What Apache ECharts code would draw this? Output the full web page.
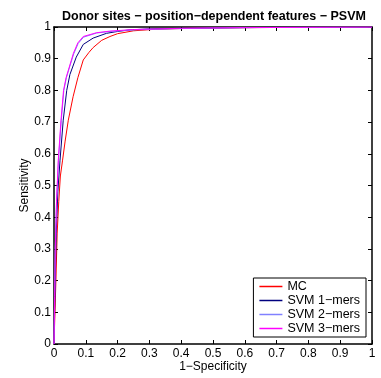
<!DOCTYPE html>
<html><head><meta charset="utf-8">
<script src="https://cdn.jsdelivr.net/npm/echarts@6/dist/echarts.min.js"></script>
<style>html,body{margin:0;padding:0;background:#fff}#c{width:381px;height:378px}</style>
</head><body><div id="c"></div>
<script>
const seriesNames = ['MC', 'SVM 1\u2212mers', 'SVM 2\u2212mers', 'SVM 3\u2212mers'];
const xTicks = [0,0.1,0.2,0.3,0.4,0.5,0.6,0.7,0.8,0.9,1];
const mc = [[0,0],[0.003,0.1],[0.006,0.2],[0.01,0.35],[0.015,0.45],[0.02,0.53],[0.027,0.58],[0.035,0.64],[0.045,0.706],[0.06,0.78],[0.075,0.84],[0.092,0.896],[0.11,0.92],[0.123,0.935],[0.15,0.958],[0.176,0.97],[0.2,0.979],[0.25,0.988],[0.32,0.993],[0.43,0.996],[0.6,0.998],[0.8,0.999],[1,1]];
const svm1 = [[0,0],[0.002,0.1],[0.004,0.2],[0.007,0.35],[0.012,0.48],[0.019,0.58],[0.029,0.706],[0.04,0.8],[0.05,0.85],[0.07,0.905],[0.092,0.945],[0.123,0.965],[0.165,0.98],[0.2,0.986],[0.24,0.991],[0.3,0.994],[0.5,0.997],[0.7,0.999],[1,1]];
const svm2 = [[0,0],[0.002,0.15],[0.004,0.3],[0.008,0.45],[0.014,0.58],[0.023,0.706],[0.031,0.8],[0.039,0.84],[0.051,0.88],[0.062,0.915],[0.076,0.948],[0.093,0.968],[0.134,0.981],[0.176,0.986],[0.25,0.991],[0.4,0.995],[0.6,0.998],[0.8,0.999],[1,1]];
const svm3 = [[0,0],[0.002,0.15],[0.004,0.3],[0.008,0.45],[0.0135,0.58],[0.022,0.706],[0.03,0.8],[0.038,0.84],[0.05,0.88],[0.061,0.917],[0.075,0.95],[0.092,0.97],[0.134,0.982],[0.176,0.987],[0.25,0.992],[0.4,0.996],[0.6,0.998],[0.8,0.999],[1,1]];
const colors = ['#ff0000', '#00007f', '#8080ff', '#ff00ff'];

const font = 'Liberation Sans, Arial, sans-serif';
const chart = echarts.init(document.getElementById('c'), null, {renderer: 'canvas'});
const tickStyle = {show: true, inside: true, length: 4, lineStyle: {color: '#000', width: 1}};
const mkAxis = (pos, showLabel, name) => ({
  type: 'value', min: 0, max: 1, interval: 0.1, position: pos,
  name: name || '', nameLocation: 'middle', nameMoveOverlap: false,
  nameGap: pos === 'left' ? 23 : 17,
  nameTextStyle: {color: '#000', fontSize: 12, fontFamily: font},
  axisLine: {show: true, onZero: false, lineStyle: {color: '#000', width: 1.5}},
  axisTick: tickStyle,
  axisLabel: {show: showLabel, color: '#000', fontSize: 12, fontFamily: font, margin: pos === 'left' ? 3 : 4,
    formatter: v => String(Math.round(v * 10) / 10)},
  splitLine: {show: false}
});
const data = [mc, svm1, svm2, svm3];
chart.setOption({
  animation: false,
  backgroundColor: '#fff',
  title: {text: 'Donor sites \u2212 position\u2212dependent features \u2212 PSVM', left: 209, top: 5, textAlign: 'center',
    textStyle: {fontSize: 12.5, fontWeight: 'bold', color: '#000', fontFamily: font}},
  grid: {left: 54, right: 9, top: 27, bottom: 34, containLabel: false},
  xAxis: [mkAxis('bottom', true, '1\u2212Specificity'), mkAxis('top', false)],
  yAxis: [mkAxis('left', true, 'Sensitivity'), mkAxis('right', false)],
  legend: {
    orient: 'vertical', right: 15, bottom: 41, itemGap: 1,
    backgroundColor: '#fff', borderColor: '#000', borderWidth: 1, borderRadius: 0,
    padding: [2, 6, 2, 6],
    itemWidth: 23, itemHeight: 1.5,
    icon: 'rect',
    textStyle: {fontSize: 12.5, color: '#000', fontFamily: font, padding: [1, 0, 1, 0]},
    data: seriesNames
  },
  series: data.map((d, i) => ({
    name: seriesNames[i], type: 'line', data: d, showSymbol: false, symbol: 'none',
    smooth: false, lineStyle: {color: colors[i], width: 1}, itemStyle: {color: colors[i]}
  }))
});
</script></body></html>
